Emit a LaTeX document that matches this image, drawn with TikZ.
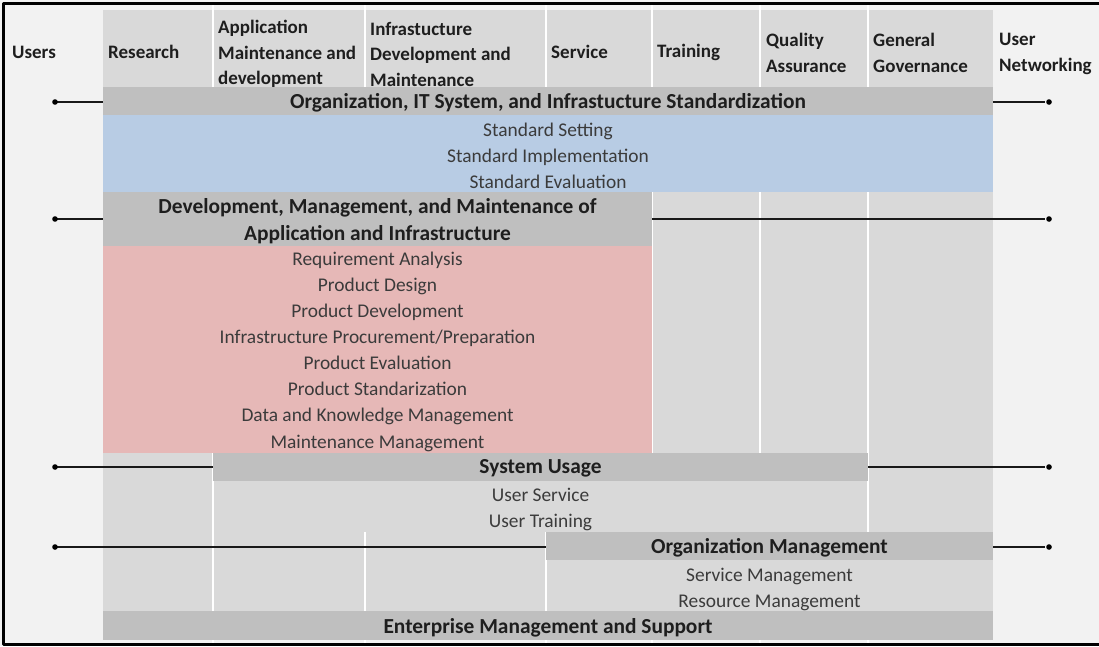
\documentclass[tikz,border=0pt]{standalone}
\usepackage{fontspec}
\setmainfont{Carlito}
\usepackage{xcolor}
\usetikzlibrary{positioning,calc}

\definecolor{pagegray}{HTML}{F2F2F2}
\definecolor{cellgray}{HTML}{D9D9D9}
\definecolor{bandgray}{HTML}{BFBFBF}
\definecolor{stdblue}{HTML}{B8CCE4}
\definecolor{devpink}{HTML}{E6B8B7}
\definecolor{itemtext}{HTML}{3B3B3B}
\definecolor{headtext}{HTML}{1E1E1E}

\newcommand{\cellfont}{\fontsize{19}{25.5}\selectfont}
\newcommand{\bandfont}{\fontsize{21.4}{27}\selectfont\bfseries}

\begin{document}
\begin{tikzpicture}[x=1pt,y=-1pt,line join=round,
  band/.style={fill=bandgray, inner sep=0pt, font=\bandfont, text=headtext, text depth=0pt},
  item/.style={inner sep=0pt, font=\fontsize{19.4}{25.5}\selectfont, text=itemtext, text height=13pt, text depth=3.5pt},
  head/.style={inner sep=0pt, anchor=west, align=left, font=\cellfont\bfseries, text=headtext},
  sep/.style={draw=white, line width=1.5pt},
  link/.style={draw=black!90, line width=2.1pt}]

  \useasboundingbox (0,0) rectangle (1099,646);

  % sheet background and the table area
  \fill[pagegray] (0,0) rectangle (1099,646);
  \fill[cellgray] (103,10) rectangle (993,640);

  % column edges
  \foreach \x in {213,365,546,652,760,868}
    \draw[sep] (\x,4) -- (\x,87);
  \foreach \x in {652,760,868}
    \draw[sep] (\x,192) -- (\x,453);
  \draw[sep] (868,453) -- (868,532);
  \draw[sep] (213,453) -- (213,611);
  \foreach \x in {365,546}
    \draw[sep] (\x,532) -- (\x,611);
  \foreach \x in {213,365,546,652,760,868}
    \draw[sep] (\x,640) -- (\x,643);

  % header row
  \node[head] (users) at (12,52) {Users};
  \node[head] (research) at (108,52) {Research};
  \node[head] (appdev) at (218,54) {Application\\Maintenance and\\development};
  \node[head] (infradev) at (370,54) {Infrastucture\\Development and\\Maintenance};
  \node[head] (service) at (551,52) {Service};
  \node[head] (training) at (657,52) {Training};
  \node[head] (quality) at (766,53) {Quality\\Assurance};
  \node[head] (governance) at (873,53) {General\\Governance};
  \node[head] (networking) at (999,54) {User\\Networking};

  % standardization
  \node[band, minimum width=890pt, minimum height=28pt] (orgstd) at (548,101)
    {Organization, IT System, and Infrastucture Standardization};
  \fill[stdblue] (103,115) rectangle (993,192);
  \foreach \t [count=\i] in {Standard Setting, Standard Implementation, Standard Evaluation}
    \node[item] (std\i) at (548,{106+25.8*\i}) {\t};

  % development and maintenance
  \node[band, minimum width=549pt, minimum height=54pt, align=center] (devmgmt) at (377.5,219)
    {Development, Management, and Maintenance of\\Application and Infrastructure};
  \fill[devpink] (103,246) rectangle (652,453);
  \foreach \t [count=\i] in {Requirement Analysis, Product Design, Product Development,
      Infrastructure Procurement/Preparation, Product Evaluation, Product Standarization,
      Data and Knowledge Management, Maintenance Management}
    \node[item] (dev\i) at (377.5,{234.5+26.1*\i}) {\t};

  % usage
  \node[band, minimum width=655pt, minimum height=28pt] (sysuse) at (540.5,466.5) {System Usage};
  \node[item] (usrsvc) at (540.5,497) {User Service};
  \node[item] (usrtrn) at (540.5,523) {User Training};

  % management
  \node[band, minimum width=447pt, minimum height=28pt] (orgmgmt) at (769.5,546) {Organization Management};
  \node[item] (svcmgmt) at (769.5,577) {Service Management};
  \node[item] (resmgmt) at (769.5,603) {Resource Management};

  \node[band, minimum width=890pt, minimum height=29pt] (enterprise) at (548,625.5)
    {Enterprise Management and Support};

  % users on the left, user networking on the right
  \coordinate (uL1) at (55,102);
  \coordinate (uR1) at (1049,102);
  \coordinate (uL2) at (55,219);
  \coordinate (uR2) at (1049,219);
  \coordinate (uL3) at (55,467);
  \coordinate (uR3) at (1049,467);
  \coordinate (uL4) at (55,547);
  \coordinate (uR4) at (1049,547);

  \draw[link] (orgstd.west |- uL1) -- (uL1);
  \draw[link, shorten >=4pt] (orgstd.east |- uR1) -- (uR1);
  \draw[link] (devmgmt.west) -- (uL2);
  \draw[link, shorten >=4pt] (devmgmt.east) -- (uR2);
  \draw[link] (sysuse.west |- uL3) -- (uL3);
  \draw[link, shorten >=4pt] (sysuse.east |- uR3) -- (uR3);
  \draw[link] (orgmgmt.west |- uL4) -- (uL4);
  \draw[link, shorten >=4pt] (orgmgmt.east |- uR4) -- (uR4);
  \foreach \i in {1,...,4} {
    \fill (uL\i) circle (2.8pt);
    \fill (uR\i) circle (2.8pt);
  }

  % frame
  \draw[line width=3pt, line cap=rect] (1099,3) -- (3,3) -- (3,644) -- (1099,644);

\end{tikzpicture}
\end{document}
